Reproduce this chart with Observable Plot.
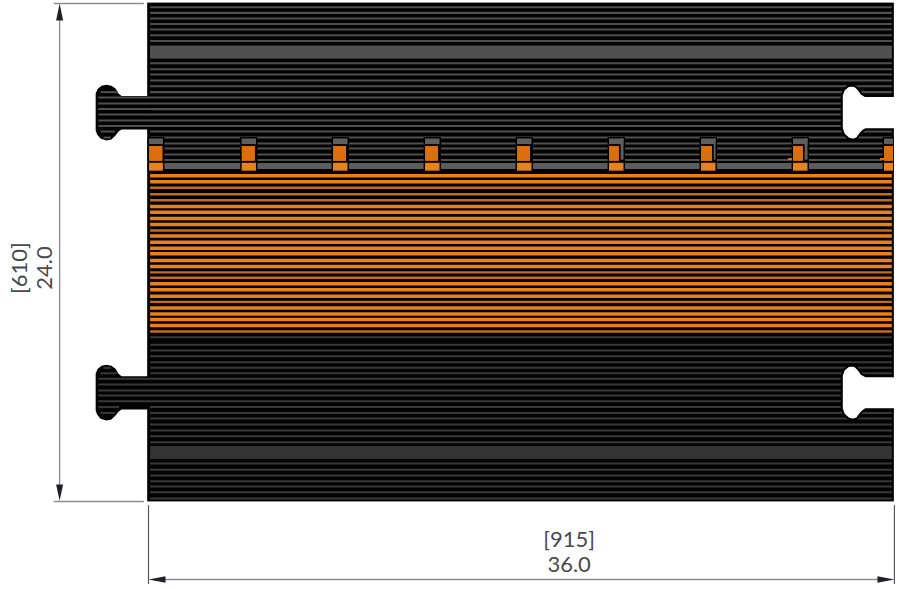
<!DOCTYPE html>
<html>
<head>
<meta charset="utf-8">
<script src="https://cdn.jsdelivr.net/npm/d3@7"></script>
<script src="https://cdn.jsdelivr.net/npm/@observablehq/plot@0.6"></script>
<style>html,body{margin:0;padding:0;background:#fff;overflow:hidden}svg{display:block}</style>
</head>
<body>
<div id="chart"></div>
<script>
// All values are drawing inches, measured from the top-left corner of the mat.
const matWidth = 36.0, matHeight = 24.0;

const upperRibs = [0.18,0.45,0.72,0.99,1.25,1.53,1.81,2.88,3.17,3.42,3.71,3.99,4.27,4.53,4.82,5.09,5.35,5.64,5.90,6.17,6.46,6.75,6.99,7.28,7.54];
const upperChannel = [2.05,2.68];
const slotChannel = [7.71,8.00];
const orangeRibsStrong = [8.30,8.59,9.78,10.06,10.36,10.65,11.21,11.50,11.79,12.06,12.39,12.67,13.51,13.80,14.11,14.67,14.96,15.23,15.52];
const orangeRibsSoft = [8.88,9.19,9.48,10.94,12.96,13.22,14.38,15.81];
const lowerRibs = [16.08,16.45,16.72,17.0,17.29,17.56,17.82,18.09,18.36,18.65,18.89,19.17,19.45,19.73,20.0,20.29,20.58,20.85,21.14,22.17,22.47,22.75,23.02,23.28,23.55,23.86];
const lowerChannel = [21.35,21.98];

const tabOutline = [[0,4.46],[-1.30,4.46],[-1.45,4.34],[-1.59,4.10],[-1.79,3.96],[-2.03,3.91],[-2.27,3.96],[-2.46,4.12],[-2.55,4.34],[-2.55,6.12],[-2.48,6.31],[-2.32,6.51],[-2.03,6.60],[-1.79,6.55],[-1.59,6.36],[-1.45,6.17],[-1.30,6.07],[0,6.07]];
const lowerTabOutline = [[0,17.96],[-1.30,17.96],[-1.45,17.84],[-1.59,17.60],[-1.79,17.46],[-2.03,17.41],[-2.27,17.46],[-2.46,17.62],[-2.55,17.84],[-2.55,19.62],[-2.48,19.81],[-2.32,20.01],[-2.03,20.10],[-1.79,20.05],[-1.59,19.86],[-1.45,19.67],[-1.30,19.57],[0,19.57]];
const notchOutline = [[36.4,4.46],[34.60,4.46],[34.41,4.35],[34.27,4.15],[34.12,4.00],[33.98,3.95],[33.78,3.97],[33.56,4.15],[33.46,4.43],[33.46,6.02],[33.56,6.30],[33.78,6.50],[33.98,6.56],[34.19,6.50],[34.33,6.30],[34.48,6.14],[34.60,6.06],[36.4,6.06]];
const lowerNotchOutline = [[36.4,17.96],[34.60,17.96],[34.41,17.85],[34.27,17.65],[34.12,17.50],[33.98,17.45],[33.78,17.47],[33.56,17.65],[33.46,17.93],[33.46,19.52],[33.56,19.80],[33.78,20.00],[33.98,20.06],[34.19,20.00],[34.33,19.80],[34.48,19.64],[34.60,19.56],[36.4,19.56]];

const upperTabRibY  = [4.27,4.53,4.82,5.09,5.35,5.64,5.90,6.17,6.46];
const upperTabRibX1 = [-2.30,-2.40,-2.40,-2.40,-2.40,-2.40,-2.40,-2.30,-2.15];
const upperTabRibX2 = [-1.45,0.1,0.1,0.1,0.1,0.1,0.1,-1.60,-1.80];
const lowerTabRibY  = [17.56,17.82,18.09,18.36,18.65,18.89,19.17,19.45,19.73];
const lowerTabRibX1 = [-2.15,-2.30,-2.40,-2.40,-2.40,-2.40,-2.40,-2.40,-2.30];
const lowerTabRibX2 = [-1.80,-1.50,0.1,0.1,0.1,0.1,0.1,-1.40,-1.60];

const slotLeft  = [0.05,4.52,8.93,13.37,17.81,22.25,26.69,31.13,35.52];
const slotRight = [0.72,5.21,9.63,14.07,18.51,22.95,27.39,31.83,35.96];
const slotInner = [0.70,5.16,9.56,14.00,18.44,22.73,27.22,31.61,35.96];
const slotTop = [6.46,8.14];
const slotCap = [6.53,6.80];
const slotCore = [6.89,7.61];
const slotFoot = [7.70,8.08];
const flashX1 = [30.89,35.33];
const flashX2 = [31.08,35.52];
const flashBand = [7.47,7.57];

const dimLabels = ["[915]","36.0"];
const dimLabelX = [20.3,20.3];
const dimLabelY = [25.85,27.08];
const sideLabels = ["[610]","24.0"];
const sideLabelX = [-6.2,-5.0];
const sideLabelY = [12.75,12.75];

const leftDimX = -4.29, bottomDimY = 27.76;
const upArrow = [[-4.29,0],[-4.12,0.82],[-4.46,0.82]];
const downArrow = [[-4.29,23.96],[-4.12,23.18],[-4.46,23.18]];
const leftArrow = [[0,27.76],[0.82,27.60],[0.82,27.92]];
const rightArrow = [[36,27.76],[35.18,27.60],[35.18,27.92]];

const xx = d => d[0], yy = d => d[1];
const box = (x1, x2, y1, y2) => [{x1, x2, y1, y2}];
const rect = (x1, x2, y1, y2, fill) => Plot.rect(box(x1, x2, y1, y2), {x1:"x1", x2:"x2", y1:"y1", y2:"y2", fill});
const ribs = (ys, stroke, strokeWidth) => Plot.ruleY(ys, {y:d => d, x1:0.1, x2:35.9, stroke, strokeWidth});
const tabRibs = (ys, x1s, x2s, stroke) => Plot.ruleY(ys, {y:d => d, x1:(d,i) => x1s[i], x2:(d,i) => x2s[i], stroke, strokeWidth:2});
const slotRects = (x1s, x2s, band, fill) => Plot.rect(x1s, {x1:d => d, x2:(d,i) => x2s[i], y1:band[0], y2:band[1], fill});
const poly = (pts, fill, stroke="none", strokeWidth=0) => Plot.line(pts, {x:xx, y:yy, fill, stroke, strokeWidth});

const black = "#020202", upperGrey = "#4f4f4f", lowerGrey = "#383838";
const lineGrey = "#8b8b92", arrowInk = "#20202c", textInk = "#4a4a4a";

const plot = Plot.plot({
  width: 899, height: 589,
  margin: 0,
  style: {background:"#fff"},
  x: {domain:[-7.143,36.245], range:[0,899], axis:null},
  y: {domain:[-0.145,28.241], range:[0,589], axis:null},
  marks: [
    rect(-0.04, matWidth, -0.02, matHeight + 0.02, black),
    poly(tabOutline, black),
    poly(lowerTabOutline, black),
    rect(0.1, 35.9, upperChannel[0], upperChannel[1], "#505050"),
    rect(0.1, 35.9, slotChannel[0], slotChannel[1], "#5c5c5c"),
    rect(0.1, 35.9, lowerChannel[0], lowerChannel[1], "#333333"),
    ribs(upperRibs, upperGrey, 2.1),
    ribs(orangeRibsStrong, "#ea7f1c", 3.5),
    ribs(orangeRibsSoft, "#c46c1b", 2.4),
    ribs(lowerRibs, lowerGrey, 2),
    tabRibs(upperTabRibY, upperTabRibX1, upperTabRibX2, upperGrey),
    tabRibs(lowerTabRibY, lowerTabRibX1, lowerTabRibX2, lowerGrey),
    poly(notchOutline, "#fff", black, 2),
    poly(lowerNotchOutline, "#fff", black, 2),
    rect(36, 36.3, -0.1, 24.1, "#fff"),
    Plot.rect(slotLeft, {x1:d => d - 0.07, x2:(d,i) => Math.min(slotRight[i] + 0.07, 36), y1:slotTop[0], y2:slotTop[1], fill:black}),
    slotRects(slotLeft, slotRight, slotCap, "#5f5f5f"),
    Plot.rect(slotLeft, {filter:(d,i) => slotRight[i] - slotInner[i] > 0.1, x1:(d,i) => slotInner[i] + 0.08, x2:(d,i) => slotRight[i], y1:slotCap[0], y2:slotCore[1] - 0.06, fill:"#5f5f5f"}),
    slotRects(slotLeft, slotInner, slotCore, "#dd6e0c"),
    slotRects(slotLeft, slotRight, slotFoot, "#e8821f"),
    slotRects(flashX1, flashX2, flashBand, "#d9701a"),
    Plot.ruleX([0,36], {y1:24.2, y2:28.0, stroke:"#55555f", strokeWidth:1.2}),
    Plot.ruleY([0,24], {x1:-4.55, x2:-0.2, stroke:lineGrey, strokeWidth:1.3}),
    Plot.ruleX([leftDimX], {y1:0.3, y2:23.7, stroke:lineGrey, strokeWidth:1.3}),
    Plot.ruleY([bottomDimY], {x1:0.3, x2:35.7, stroke:lineGrey, strokeWidth:1.5}),
    poly(upArrow, arrowInk),
    poly(downArrow, arrowInk),
    poly(leftArrow, arrowInk),
    poly(rightArrow, arrowInk),
    Plot.text(dimLabels, {text:d => d, x:(d,i) => dimLabelX[i], y:(d,i) => dimLabelY[i], fontFamily:"Lato", fontSize:22, fill:textInk}),
    Plot.text(sideLabels, {text:d => d, x:(d,i) => sideLabelX[i], y:(d,i) => sideLabelY[i], rotate:-90, fontFamily:"Lato", fontSize:22, fill:textInk})
  ]
});
document.getElementById("chart").appendChild(plot);
</script>
</body>
</html>
